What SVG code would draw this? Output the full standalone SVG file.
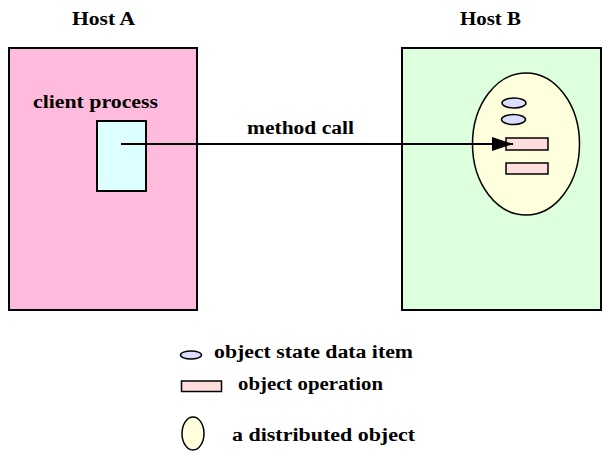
<svg xmlns="http://www.w3.org/2000/svg" width="610" height="459" viewBox="0 0 610 459">
<style>
text{font-family:"Liberation Serif","Times New Roman",serif;font-weight:bold;font-size:18px;fill:#000}
.b{stroke:#000;stroke-width:2}
.t{stroke:#000;stroke-width:1.5}
.data{fill:#DDDDFF}
.op{fill:#FFDDDD}
.obj{fill:#FFFFDD}
</style>
<defs>
<marker id="ah" markerUnits="userSpaceOnUse" markerWidth="22" markerHeight="16" refX="21" refY="7" orient="auto">
<path d="M0,0 L21,7 L0,14 z" fill="#000"/>
</marker>
</defs>
<rect width="610" height="459" fill="#fff"/>
<g id="hostA">
<text x="72" y="25" textLength="63" lengthAdjust="spacingAndGlyphs">Host A</text>
<rect x="9" y="48" width="188" height="262" fill="#FFBBDD" class="b"/>
<text x="33" y="108" textLength="125" lengthAdjust="spacingAndGlyphs">client process</text>
</g>
<g id="clientProcess">
<rect x="97" y="121" width="49" height="70" fill="#DDFFFF" class="b"/>
</g>
<g id="hostB">
<text x="460" y="25" textLength="61" lengthAdjust="spacingAndGlyphs">Host B</text>
<rect x="402" y="48" width="199" height="262" fill="#DDFFDD" class="b"/>
</g>
<g id="distributedObject">
<ellipse cx="526" cy="144" rx="53.5" ry="71" class="obj t"/>
<ellipse cx="514" cy="103" rx="12" ry="5" class="data t"/>
<ellipse cx="513.5" cy="119.5" rx="12" ry="5" class="data t"/>
<rect x="506" y="138" width="42" height="12" class="op t"/>
<rect x="506" y="163" width="42" height="11" class="op t"/>
</g>
<g id="connectors">
<line x1="121" y1="144" x2="513" y2="144" stroke="#000" stroke-width="2" marker-end="url(#ah)"/>
<text x="247" y="134" textLength="107" lengthAdjust="spacingAndGlyphs">method call</text>
</g>
<g id="legend">
<ellipse cx="191" cy="355" rx="10.5" ry="4" class="data t"/>
<text x="214" y="358" textLength="199" lengthAdjust="spacingAndGlyphs">object state data item</text>
<rect x="181.5" y="381" width="40" height="10.5" class="op t"/>
<text x="238" y="390" textLength="145" lengthAdjust="spacingAndGlyphs">object operation</text>
<ellipse cx="193" cy="433.5" rx="11" ry="16.5" class="obj t"/>
<text x="232" y="441" textLength="183" lengthAdjust="spacingAndGlyphs">a distributed object</text>
</g>
</svg>
